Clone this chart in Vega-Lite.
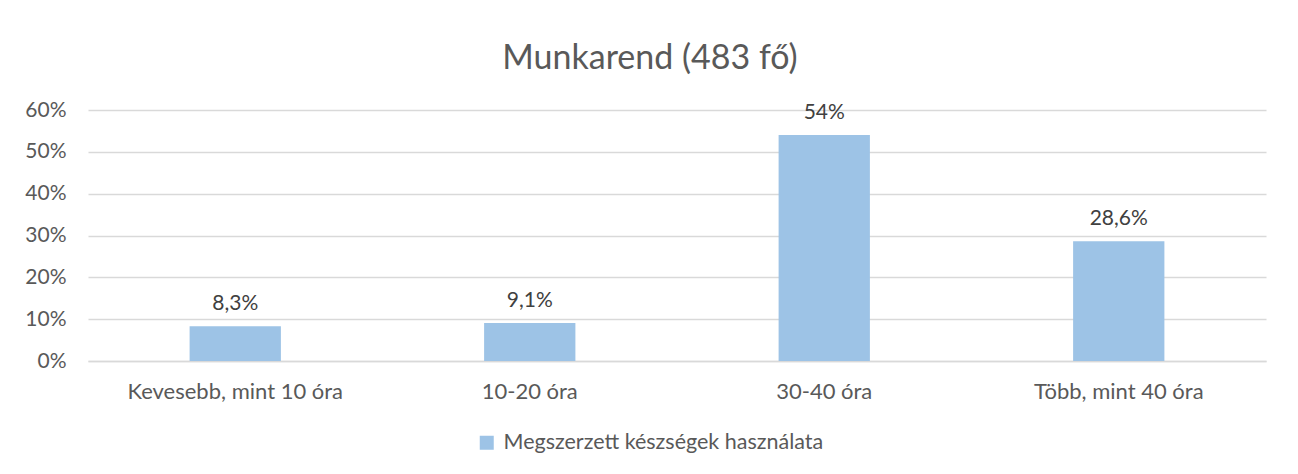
{
  "$schema": "https://vega.github.io/schema/vega-lite/v6.json",
  "width": 1178,
  "height": 251,
  "autosize": "none",
  "padding": {"left": 88, "top": 110, "right": 32, "bottom": 113},
  "background": "white",
  "title": {
    "text": "Munkarend (483 fő)",
    "font": "Lato",
    "fontSize": 34,
    "fontWeight": "normal",
    "color": "#595959",
    "anchor": "middle",
    "offset": 23,
    "dx": -27
  },
  "data": {
    "values": [
      {"kategoria": "Kevesebb, mint 10 óra", "ertek": 0.083, "sorozat": "Megszerzett készségek használata"},
      {"kategoria": "10-20 óra", "ertek": 0.091, "sorozat": "Megszerzett készségek használata"},
      {"kategoria": "30-40 óra", "ertek": 0.54, "sorozat": "Megszerzett készségek használata"},
      {"kategoria": "Több, mint 40 óra", "ertek": 0.286, "sorozat": "Megszerzett készségek használata"}
    ]
  },
  "encoding": {
    "x": {
      "field": "kategoria",
      "type": "nominal",
      "sort": null,
      "scale": {"paddingInner": 0.69, "paddingOuter": 0.345},
      "axis": {
        "title": null,
        "labelAngle": 0,
        "labelFont": "Lato",
        "labelFontSize": 22,
        "labelColor": "#595959",
        "labelPadding": 20,
        "labelLimit": 400,
        "ticks": false,
        "domain": true,
        "domainColor": "#d9d9d9",
        "domainWidth": 1.5
      }
    },
    "y": {
      "field": "ertek",
      "type": "quantitative",
      "scale": {"domain": [0, 0.6], "nice": false},
      "axis": {
        "title": null,
        "format": "%",
        "values": [0, 0.1, 0.2, 0.3, 0.4, 0.5, 0.6],
        "labelOverlap": false,
        "labelFont": "Lato",
        "labelFontSize": 21,
        "labelColor": "#595959",
        "labelPadding": 22,
        "ticks": false,
        "domain": false,
        "grid": true,
        "gridColor": "#d9d9d9",
        "gridWidth": 1.5
      }
    }
  },
  "layer": [
    {
      "mark": {"type": "bar", "stroke": null},
      "encoding": {
        "color": {
          "field": "sorozat",
          "type": "nominal",
          "scale": {"range": ["#9DC3E6"]},
          "legend": {
            "title": null,
            "orient": "none",
            "legendX": 388,
            "legendY": 322,
            "symbolType": "square",
            "symbolSize": 196,
            "symbolStrokeWidth": 0,
            "labelFont": "Lato",
            "labelFontSize": 21.5,
            "labelColor": "#595959",
            "labelLimit": 500,
            "labelOffset": 6
          }
        }
      }
    },
    {
      "mark": {
        "type": "text",
        "baseline": "bottom",
        "dy": -12,
        "font": "Lato",
        "fontSize": 21,
        "color": "#404040"
      },
      "encoding": {
        "text": {"field": "ertek", "type": "quantitative", "format": ".1~%"}
      }
    }
  ],
  "config": {
    "locale": {
      "number": {
        "decimal": ",",
        "thousands": " ",
        "grouping": [3],
        "currency": ["", " Ft"]
      }
    },
    "view": {"stroke": null}
  }
}
